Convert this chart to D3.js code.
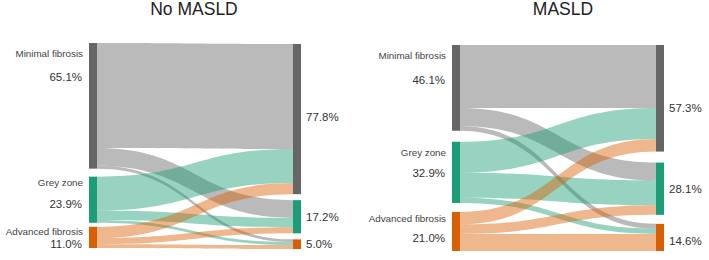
<!DOCTYPE html>
<meta charset="utf-8">
<style>
  body { margin: 0; background: #fff; }
  text { font-family: "Liberation Sans", Arial, sans-serif; }
</style>
<body>
<script src="https://d3js.org/d3.v7.min.js"></script>
<script>
  // stages (same order on both sides)
  var categories = ["Minimal fibrosis", "Grey zone", "Advanced fibrosis"];
  var titles = ["No MASLD", "MASLD"];

  // flows[from][to] in % of patients
  var noMasldFlows = [[54.4, 9.2, 1.5], [17.6, 4.8, 1.5], [5.8, 3.2, 2.0]];
  var masldFlows   = [[33.9, 9.6, 2.6], [16.7, 13.4, 2.8], [6.7, 5.1, 9.2]];

  var noMasldBaseline = ["65.1%", "23.9%", "11.0%"];
  var noMasldFollowup = ["77.8%", "17.2%", "5.0%"];
  var masldBaseline   = ["46.1%", "32.9%", "21.0%"];
  var masldFollowup   = ["57.3%", "28.1%", "14.6%"];

  var colors = d3.scaleOrdinal().domain(categories).range(["#666666", "#1b9e77", "#d95f02"]);

  var svg = d3.select("body").append("svg")
      .attr("width", 709)
      .attr("height", 260);

  // per panel layout (positions only)
  var panels = [
    { flows: noMasldFlows, left: noMasldBaseline, right: noMasldFollowup, title: titles[0],
      x0: 89, x1: 301, topL: 43, topR: 44, ky: 1.93, gapsL: [8, 4], gapsR: [6, 6], titleX: 194,
      nameDy: [10, 6, 4.5], pctDy: [34, 27, 17], rightDy: [-2, 0, 0] },
    { flows: masldFlows, left: masldBaseline, right: masldFollowup, title: titles[1],
      x0: 452, x1: 664, topL: 45, topR: 45, ky: 1.86, gapsL: [11, 9], gapsR: [11, 9], titleX: 563,
      nameDy: [10, 11, 7], pctDy: [35, 31, 26], rightDy: [10, 0, 4] }
  ];

  var nodeW = 8;

  panels.forEach(function(p) {
    var h = d3.scaleLinear().domain([0, 100]).range([0, 100 * p.ky]);
    var g = svg.append("g");

    var outSum = p.flows.map(function(r) { return d3.sum(r); });
    var inSum = categories.map(function(c, j) { return d3.sum(p.flows, function(r) { return r[j]; }); });

    function stack(sums, top, gaps) {
      var y = top, res = [];
      sums.forEach(function(s, i) {
        res.push({ y0: y, y1: y + h(s) });
        y += h(s) + (gaps[i] || 0);
      });
      return res;
    }
    var leftNodes = stack(outSum, p.topL, p.gapsL);
    var rightNodes = stack(inSum, p.topR, p.gapsR);

    // link offsets
    var links = [];
    var sOff = leftNodes.map(function(n) { return n.y0; });
    var tOff = rightNodes.map(function(n) { return n.y0; });
    p.flows.forEach(function(r, i) {
      r.forEach(function(v, j) {
        links.push({ src: i, tgt: j, v: v, sy0: sOff[i], sy1: sOff[i] + h(v) });
        sOff[i] += h(v);
      });
    });
    categories.forEach(function(c, j) {
      links.forEach(function(l) {
        if (l.tgt === j) { l.ty0 = tOff[j]; l.ty1 = tOff[j] + h(l.v); tOff[j] += h(l.v); }
      });
    });

    var xa = p.x0 + nodeW, xb = p.x1 - nodeW, xm = (xa + xb) / 2;
    g.selectAll(".link")
      .data(links)
      .enter().append("path")
        .attr("class", "link")
        .attr("d", function(l) {
          return "M" + xa + "," + l.sy0 +
                 "C" + xm + "," + l.sy0 + " " + xm + "," + l.ty0 + " " + xb + "," + l.ty0 +
                 "L" + xb + "," + l.ty1 +
                 "C" + xm + "," + l.ty1 + " " + xm + "," + l.sy1 + " " + xa + "," + l.sy1 + "Z";
        })
        .style("fill", function(l) { return colors(categories[l.src]); })
        .style("opacity", 0.45);

    g.selectAll(".lnode")
      .data(leftNodes)
      .enter().append("rect")
        .attr("x", p.x0).attr("width", nodeW)
        .attr("y", function(d) { return d.y0; })
        .attr("height", function(d) { return d.y1 - d.y0; })
        .style("fill", function(d, i) { return colors(categories[i]); });

    g.selectAll(".rnode")
      .data(rightNodes)
      .enter().append("rect")
        .attr("x", p.x1 - nodeW).attr("width", nodeW)
        .attr("y", function(d) { return d.y0; })
        .attr("height", function(d) { return d.y1 - d.y0; })
        .style("fill", function(d, i) { return colors(categories[i]); });

    // labels
    leftNodes.forEach(function(n, i) {
      g.append("text")
        .attr("x", p.x0 - 6).attr("y", n.y0 + p.nameDy[i])
        .attr("text-anchor", "end").attr("dominant-baseline", "central")
        .style("font-size", "9.8px").style("fill", "#444")
        .text(categories[i]);
      g.append("text")
        .attr("x", p.x0 - 7).attr("y", n.y0 + p.pctDy[i])
        .attr("text-anchor", "end").attr("dominant-baseline", "central")
        .style("font-size", "11.5px").style("fill", "#333")
        .text(p.left[i]);
    });
    rightNodes.forEach(function(n, i) {
      g.append("text")
        .attr("x", p.x1 + 5).attr("y", (n.y0 + n.y1) / 2 + p.rightDy[i])
        .attr("dominant-baseline", "central")
        .style("font-size", "11.5px").style("fill", "#333")
        .text(p.right[i]);
    });

    g.append("text")
      .attr("x", p.titleX).attr("y", 15)
      .attr("text-anchor", "middle")
      .style("font-size", "17.5px").style("fill", "#222")
      .text(p.title);
  });
</script>
</body>
</html>
